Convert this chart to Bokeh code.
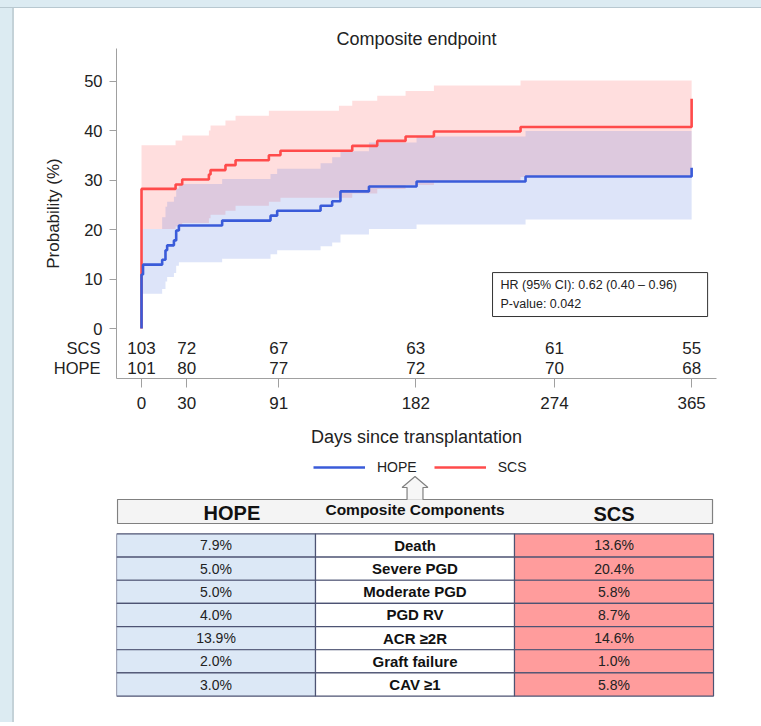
from bokeh.plotting import figure
from bokeh.models import (Range1d, FixedTicker, Legend, LegendItem, LinearAxis,
                          Spacer)
from bokeh.layouts import column, row
from bokeh.embed import file_html
from bokeh.resources import INLINE
from bokeh.core.properties import value

# ---------------- data ----------------
scs_days = [0, 0, 22.6, 27, 44.7, 45.8, 55.7, 62.4, 84.5, 92.2, 139.8, 156.4, 175.2, 194, 251.5, 365]
scs_cum = [0, 28.2, 29.1, 30.1, 31.1, 32.0, 33.0, 34.0, 35.0, 35.9, 36.9, 37.9, 38.8, 39.8, 40.7, 46.4]
hope_days = [0, 0, 1, 13.7, 15.9, 17, 21.5, 23, 24.8, 53.5, 85.6, 90, 118.8, 126.5, 132, 150.9, 182.5, 254.8, 365]
hope_cum = [0, 10.9, 12.9, 13.9, 15.8, 16.8, 17.8, 19.8, 20.8, 21.8, 22.8, 23.8, 24.8, 25.7, 27.7, 28.7, 29.7, 30.7, 32.5]

scs_ci_days = [0, 22.6, 27, 44.7, 45.8, 55.7, 62.4, 84.5, 92.2, 131, 139.8, 156.4, 175.2, 194, 251.5, 365]
scs_ci_lo = [20.1, 20.6, 21.3, 22.3, 23.0, 23.8, 24.8, 25.6, 26.4, 26.4, 27.3, 28.2, 29.0, 29.8, 30.6, 30.6]
scs_ci_hi = [37.0, 38.0, 39.0, 40.0, 41.0, 42.0, 43.0, 44.0, 44.0, 45.0, 46.0, 47.0, 48.0, 49.1, 50.1, 50.1]
hope_ci_days = [0, 1, 13.7, 15.9, 17, 21.5, 23, 24.8, 53.5, 85.6, 90, 118.8, 126.5, 132, 150.9, 182.5, 254.8, 365]
hope_ci_lo = [7.0, 7.0, 8.0, 9.5, 10.4, 11.2, 12.7, 13.4, 14.1, 15.0, 15.8, 16.6, 17.4, 19.0, 20.1, 21.0, 22.0, 22.0]
hope_ci_hi = [20.1, 20.1, 22.5, 24.6, 25.6, 26.6, 28.3, 29.2, 30.2, 31.2, 32.3, 33.4, 34.6, 35.8, 37.6, 38.8, 39.9, 39.9]

risk_days = [0, 30, 91, 182, 274, 365]
scs_at_risk = [103, 72, 67, 63, 61, 55]
hope_at_risk = [101, 80, 77, 72, 70, 68]
risk_rows = {"SCS": -4, "HOPE": -8}
y_ticks = [0, 10, 20, 30, 40, 50]

hr_text = ["HR (95% CI): 0.62 (0.40 \u2013 0.96)", "P-value: 0.042"]

components = ["Death", "Severe PGD", "Moderate PGD", "PGD RV", "ACR \u22652R", "Graft failure", "CAV \u22651"]
hope_pct = [7.9, 5.0, 5.0, 4.0, 13.9, 2.0, 3.0]
scs_pct = [13.6, 20.4, 5.8, 8.7, 14.6, 1.0, 5.8]
header = ["HOPE", "Composite Components", "SCS"]

FONT = "Liberation Sans"
RED = "#ff4b4b"
BLUE = "#3a5bd9"
TXT = "#222222"
PAGE_BG = "#dcebf2"

# ---------------- KM figure ----------------
p = figure(width=747, height=448, output_backend="svg", toolbar_location=None,
           x_range=Range1d(-16.6, 381.5), y_range=Range1d(-10.1, 56.57),
           min_border_left=102, min_border_right=45, min_border_top=40,
           min_border_bottom=78, title="Composite endpoint")
p.title.align = "center"
p.title.text_font = FONT
p.title.text_font_size = "18px"
p.title.text_font_style = "normal"
p.title.text_color = TXT
p.title.standoff = 0
p.grid.visible = False
p.outline_line_color = None

p.varea_step(x=scs_ci_days, y1=scs_ci_lo, y2=scs_ci_hi, step_mode="after",
             fill_color="#ff5a5a", fill_alpha=0.2)
p.varea_step(x=hope_ci_days, y1=hope_ci_lo, y2=hope_ci_hi, step_mode="after",
             fill_color="#4a6ee0", fill_alpha=0.19)
p.step(scs_days, scs_cum, mode="after", line_color=RED, line_width=2.6)
p.step(hope_days, hope_cum, mode="after", line_color=BLUE, line_width=2.6)

# number at risk rows
for name, counts in (("SCS", scs_at_risk), ("HOPE", hope_at_risk)):
    p.text(x=risk_days, y=[risk_rows[name]] * len(risk_days),
           text=[str(v) for v in counts], text_font=value(FONT),
           text_font_size="17px", text_align="center", text_baseline="middle",
           text_color=TXT)

# HR box
p.quad(left=[232.9], right=[375.6], bottom=[2.42], top=[11.3],
       fill_color="white", line_color="#333333", line_width=1)
p.text(x=[238.2, 238.2], y=[8.7, 5.05], text=hr_text, text_font=value(FONT),
       text_font_size="12.5px", text_align="left", text_baseline="middle",
       text_color=TXT)

# x axis
xa = p.xaxis[0]
xa.ticker = FixedTicker(ticks=risk_days)
xa.axis_line_color = "#a0a0a0"
xa.major_tick_line_color = "#a0a0a0"
xa.minor_tick_line_color = None
xa.major_tick_in = 0
xa.major_tick_out = 9
xa.major_label_standoff = 9
xa.major_label_text_font = FONT
xa.major_label_text_font_size = "17px"
xa.major_label_text_color = TXT
xa.axis_label = "Days since transplantation"
xa.axis_label_standoff = 15
xa.axis_label_text_font = FONT
xa.axis_label_text_font_size = "18px"
xa.axis_label_text_font_style = "normal"
xa.axis_label_text_color = TXT

# y axis: probability ticks next to the frame
ya = p.yaxis[0]
ya.ticker = FixedTicker(ticks=y_ticks)
ya.axis_line_color = "#a0a0a0"
ya.major_tick_line_color = "#a0a0a0"
ya.minor_tick_line_color = None
ya.major_tick_in = 0
ya.major_tick_out = 7
ya.major_label_standoff = 7
ya.major_label_text_font = FONT
ya.major_label_text_font_size = "16.5px"
ya.major_label_text_color = TXT

# outer left axis: number-at-risk row names + axis title
yrow = LinearAxis(ticker=FixedTicker(ticks=list(risk_rows.values())),
                  major_label_overrides={v: k for k, v in risk_rows.items()},
                  axis_line_color=None, major_tick_line_color=None,
                  minor_tick_line_color=None, major_tick_in=0, major_tick_out=0,
                  major_label_standoff=-19, major_label_text_font=FONT,
                  major_label_text_font_size="16.5px",
                  major_label_text_color=TXT,
                  axis_label="Probability (%)", axis_label_standoff=-12,
                  axis_label_text_font=FONT, axis_label_text_font_size="17px",
                  axis_label_text_font_style="normal",
                  axis_label_text_color=TXT)
p.add_layout(yrow, "left")

# ---------------- table figure (with legend) ----------------
t = figure(width=747, height=266, output_backend="svg", toolbar_location=None,
           x_range=Range1d(0, 3.015), y_range=Range1d(8.140, -3.341),
           min_border_left=102, min_border_right=45, min_border_top=0,
           min_border_bottom=0, x_axis_location=None, y_axis_location=None)
t.grid.visible = False
t.outline_line_color = None

# legend proxies (drawn outside the visible range)
lh = t.line([10, 11], [100, 100], line_color=BLUE, line_width=2.6)
ls = t.line([10, 11], [100, 100], line_color=RED, line_width=2.6)
legend = Legend(items=[LegendItem(label="HOPE", renderers=[lh]),
                       LegendItem(label="SCS", renderers=[ls])],
                orientation="horizontal", location=(197, 245),
                glyph_width=52, glyph_height=20, label_standoff=12, spacing=17,
                border_line_color=None, background_fill_alpha=0,
                label_text_font=FONT, label_text_font_size="14px",
                label_text_color=TXT, padding=0, margin=0)
t.add_layout(legend)

n = len(components)
rows = [i + 0.5 for i in range(n)]
col_fill = ["#dce8f6", "#ffffff", "#ff9c9c"]
t.rect(x=[0.5] * n + [1.5] * n + [2.5] * n, y=rows * 3, width=1, height=1,
       fill_color=[col_fill[0]] * n + [col_fill[1]] * n + [col_fill[2]] * n,
       line_color="#4d5373", line_width=1.2)
t.text(x=[0.5] * n, y=rows, text=[f"{v:.1f}%" for v in hope_pct], text_font=value(FONT),
       text_font_size="14px", text_align="center", text_baseline="middle",
       text_color=TXT)
t.text(x=[1.5] * n, y=rows, text=components, text_font=value(FONT),
       text_font_size="15px", text_font_style="bold", text_align="center",
       text_baseline="middle", text_color="#111111")
t.text(x=[2.5] * n, y=rows, text=[f"{v:.1f}%" for v in scs_pct], text_font=value(FONT),
       text_font_size="14px", text_align="center", text_baseline="middle",
       text_color=TXT)

# header bar with arrow
t.rect(x=[1.5], y=[-0.967], width=2.99, height=1.036, fill_color="#f4f4f4",
       line_color="#808080", line_width=1.2)
ax_c, nw, sw = 1.5, 0.04, 0.065
arrow_x = [ax_c - nw, ax_c - nw, ax_c - sw, ax_c, ax_c + sw, ax_c + nw, ax_c + nw]
arrow_y = [-1.47, -2.003, -2.003, -2.477, -2.003, -2.003, -1.47]
t.patch(arrow_x, arrow_y, fill_color="#f7f7f7", line_color=None)
t.line(arrow_x, arrow_y, line_color="#808080", line_width=1.2)
t.text(x=[0.58, 1.5, 2.5], y=[-0.90, -1.05, -0.88], text=header, text_font=value(FONT),
       text_font_size=["20px", "15.5px", "20px"], text_font_style="bold",
       text_align="center", text_baseline="middle", text_color="#111111")

top_strip = Spacer(width=761, height=8, styles={"background-color": PAGE_BG,
                                                 "box-shadow": "inset 0 -1px 0 #b8c8d0"})
left_strip = Spacer(width=14, height=714, styles={"background-color": PAGE_BG,
                                                   "box-shadow": "inset -2px 0 0 #c4d2d8"})
layout = column(top_strip, row(left_strip, column(p, t)))
open("out.html", "w").write(file_html(layout, INLINE))
